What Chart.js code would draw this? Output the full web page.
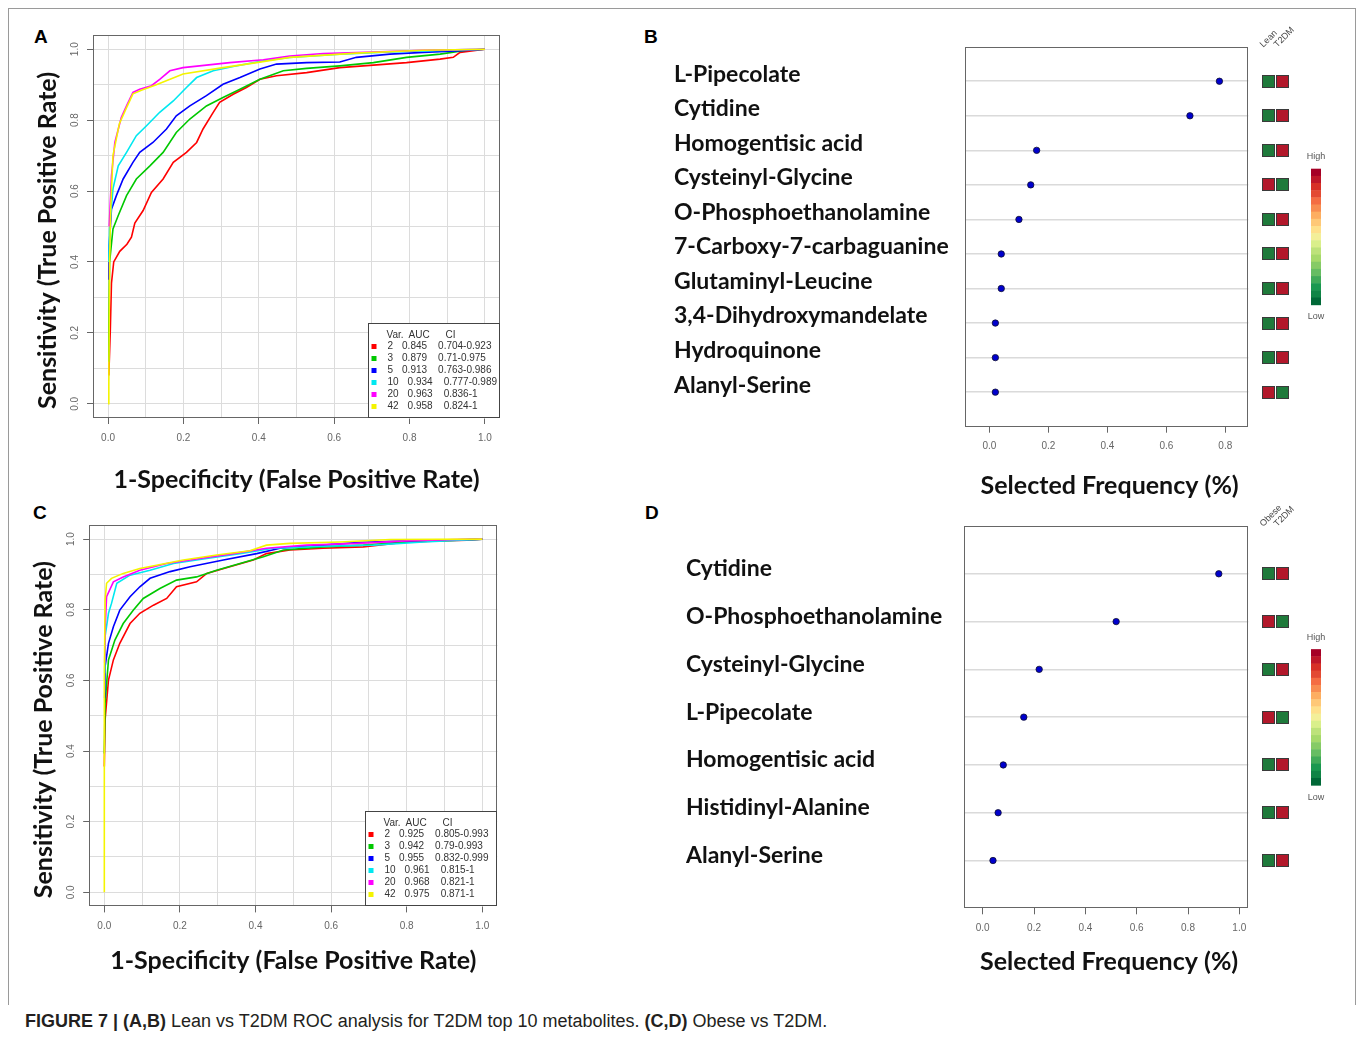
<!DOCTYPE html>
<html><head><meta charset="utf-8">
<script src="https://cdn.jsdelivr.net/npm/chart.js@4.4.1/dist/chart.umd.min.js"></script>
<style>
html,body{margin:0;padding:0;background:#fff;}
body{width:1357px;height:1041px;position:relative;overflow:hidden;font-family:"Liberation Sans",Arial,sans-serif;}
.frame{position:absolute;left:8px;top:8px;width:1346px;height:996px;border:1px solid #9a9a9a;border-bottom:none;}
.panel{position:absolute;}
.letter{position:absolute;font:bold 19px/19px "Liberation Sans",Arial,sans-serif;color:#000;}
.caption{position:absolute;left:25px;top:1012px;font:18px/18px "Liberation Sans",Arial,sans-serif;color:#231f20;white-space:nowrap;}
</style></head><body>
<div class="frame"></div>
<div class="letter" style="left:34px;top:27px">A</div>
<div class="letter" style="left:644px;top:27px">B</div>
<div class="letter" style="left:33px;top:503px">C</div>
<div class="letter" style="left:645px;top:503px">D</div>
<div class="panel" style="left:20px;top:20px"><canvas id="cA" width="500" height="480"></canvas></div>
<div class="panel" style="left:640px;top:20px"><canvas id="cB" width="705" height="480"></canvas></div>
<div class="panel" style="left:20px;top:500px"><canvas id="cC" width="500" height="480"></canvas></div>
<div class="panel" style="left:640px;top:500px"><canvas id="cD" width="705" height="480"></canvas></div>
<div class="caption"><b>FIGURE 7 | (A,B)</b> Lean vs T2DM ROC analysis for T2DM top 10 metabolites. <b>(C,D)</b> Obese vs T2DM.</div>
<script>
// ---------------- DATA ----------------
const rocVars = ['2', '3', '5', '10', '20', '42'];
const aucA = ['0.845', '0.879', '0.913', '0.934', '0.963', '0.958'];
const ciA = ['0.704-0.923', '0.71-0.975', '0.763-0.986', '0.777-0.989', '0.836-1', '0.824-1'];
const aucC = ['0.925', '0.942', '0.955', '0.961', '0.968', '0.975'];
const ciC = ['0.805-0.993', '0.79-0.993', '0.832-0.999', '0.815-1', '0.821-1', '0.871-1'];

// ROC curves, panel A (Lean vs T2DM): [FPR, TPR]
const rocA_v2 = [[0.002,0.08],[0.006,0.21],[0.009,0.34],[0.015,0.40],[0.031,0.43],[0.05,0.45],[0.062,0.47],[0.071,0.51],[0.093,0.545],[0.115,0.596],[0.146,0.634],[0.173,0.681],[0.208,0.709],[0.235,0.737],[0.252,0.775],[0.279,0.822],[0.296,0.85],[0.332,0.873],[0.367,0.892],[0.403,0.915],[0.447,0.925],[0.527,0.934],[0.615,0.948],[0.704,0.955],[0.792,0.962],[0.881,0.972],[0.916,0.977],[0.934,0.991],[1,1]];
const rocA_v3 = [[0.001,0.12],[0.002,0.211],[0.004,0.399],[0.013,0.493],[0.027,0.531],[0.049,0.587],[0.075,0.634],[0.111,0.671],[0.146,0.709],[0.181,0.765],[0.217,0.803],[0.261,0.84],[0.305,0.864],[0.35,0.887],[0.403,0.915],[0.465,0.939],[0.527,0.946],[0.615,0.953],[0.704,0.962],[0.792,0.977],[0.881,0.986],[0.951,0.997],[1,1]];
const rocA_v5 = [[0.002,0.35],[0.003,0.446],[0.009,0.549],[0.022,0.587],[0.04,0.634],[0.066,0.681],[0.084,0.709],[0.119,0.737],[0.155,0.775],[0.181,0.812],[0.217,0.84],[0.261,0.869],[0.305,0.901],[0.35,0.92],[0.403,0.944],[0.447,0.958],[0.527,0.962],[0.615,0.964],[0.659,0.977],[0.748,0.986],[0.836,0.991],[0.925,0.995],[1,1]];
const rocA_v10 = [[0.002,0.4],[0.004,0.493],[0.013,0.606],[0.027,0.671],[0.049,0.709],[0.075,0.756],[0.102,0.784],[0.137,0.822],[0.173,0.854],[0.208,0.892],[0.235,0.92],[0.279,0.939],[0.332,0.951],[0.412,0.967],[0.482,0.977],[0.615,0.986],[0.748,0.992],[0.925,0.998],[1,1]];
const rocA_v20 = [[0.003,0.5],[0.009,0.643],[0.018,0.737],[0.035,0.807],[0.049,0.84],[0.066,0.878],[0.084,0.887],[0.115,0.897],[0.137,0.915],[0.164,0.939],[0.199,0.948],[0.261,0.955],[0.323,0.962],[0.412,0.97],[0.482,0.981],[0.571,0.988],[0.704,0.992],[0.836,0.997],[1,1]];
const rocA_v42 = [[0,0],[0.002,0.047],[0.004,0.4],[0.007,0.55],[0.013,0.7],[0.03,0.79],[0.049,0.835],[0.066,0.874],[0.09,0.885],[0.128,0.9],[0.199,0.93],[0.305,0.948],[0.394,0.962],[0.482,0.977],[0.659,0.989],[0.836,0.997],[1,1]];

// ROC curves, panel C (Obese vs T2DM)
const rocC_v2 = [[0,0.356],[0.002,0.488],[0.011,0.601],[0.024,0.658],[0.041,0.705],[0.068,0.761],[0.094,0.79],[0.13,0.813],[0.165,0.832],[0.191,0.865],[0.244,0.879],[0.271,0.903],[0.332,0.922],[0.394,0.941],[0.429,0.959],[0.491,0.969],[0.579,0.974],[0.685,0.978],[0.8,0.992],[0.959,0.997],[1,1]];
const rocC_v3 = [[0,0.393],[0.002,0.535],[0.011,0.658],[0.028,0.714],[0.05,0.761],[0.077,0.799],[0.103,0.832],[0.147,0.86],[0.191,0.884],[0.244,0.893],[0.297,0.912],[0.359,0.931],[0.421,0.95],[0.474,0.969],[0.579,0.978],[0.685,0.983],[0.8,0.992],[0.932,0.997],[1,1]];
const rocC_v5 = [[0.001,0.55],[0.002,0.639],[0.011,0.705],[0.024,0.752],[0.041,0.799],[0.068,0.837],[0.094,0.865],[0.121,0.889],[0.174,0.908],[0.227,0.922],[0.315,0.941],[0.403,0.959],[0.465,0.974],[0.579,0.983],[0.668,0.99],[0.8,0.995],[0.888,0.997],[1,1]];
const rocC_v10 = [[0.001,0.62],[0.002,0.724],[0.011,0.79],[0.019,0.818],[0.033,0.875],[0.068,0.898],[0.121,0.912],[0.183,0.931],[0.271,0.945],[0.359,0.959],[0.447,0.974],[0.579,0.98],[0.712,0.983],[0.844,0.992],[0.959,0.998],[1,1]];
const rocC_v20 = [[0.001,0.65],[0.002,0.742],[0.006,0.837],[0.024,0.879],[0.05,0.893],[0.094,0.912],[0.165,0.931],[0.253,0.945],[0.341,0.959],[0.429,0.974],[0.535,0.983],[0.668,0.988],[0.8,0.995],[0.932,0.999],[1,1]];
const rocC_v42 = [[0,0],[0,0.6],[0.002,0.827],[0.006,0.875],[0.019,0.889],[0.05,0.903],[0.094,0.917],[0.138,0.926],[0.209,0.941],[0.297,0.955],[0.385,0.967],[0.429,0.983],[0.491,0.988],[0.623,0.992],[0.756,0.999],[1,1]];

// Panel B: selected frequency (Lean vs T2DM)
const metabolitesB = ['L-Pipecolate', 'Cytidine', 'Homogentisic acid', 'Cysteinyl-Glycine', 'O-Phosphoethanolamine', '7-Carboxy-7-carbaguanine', 'Glutaminyl-Leucine', '3,4-Dihydroxymandelate', 'Hydroquinone', 'Alanyl-Serine'];
const freqB = [0.78, 0.68, 0.16, 0.14, 0.10, 0.04, 0.04, 0.02, 0.02, 0.02];
const groupsB = ['Lean', 'T2DM'];
const heatB_Lean = ['low', 'low', 'low', 'high', 'low', 'low', 'low', 'low', 'low', 'high'];
const heatB_T2DM = ['high', 'high', 'high', 'low', 'high', 'high', 'high', 'high', 'high', 'low'];

// Panel D: selected frequency (Obese vs T2DM)
const metabolitesD = ['Cytidine', 'O-Phosphoethanolamine', 'Cysteinyl-Glycine', 'L-Pipecolate', 'Homogentisic acid', 'Histidinyl-Alanine', 'Alanyl-Serine'];
const freqD = [0.92, 0.52, 0.22, 0.16, 0.08, 0.06, 0.04];
const groupsD = ['Obese', 'T2DM'];
const heatD_Obese = ['low', 'high', 'low', 'high', 'low', 'low', 'low'];
const heatD_T2DM = ['high', 'low', 'high', 'low', 'high', 'high', 'high'];

// ---------------- STYLE ----------------
const rocColors = ['#ff0000', '#00c800', '#0000ff', '#00e8f0', '#ff00ff', '#f4f400'];
const heatColors = { high: '#b2182b', low: '#1f7a3b' };
const colorbarPalette = ['#a50026','#be1729','#d73027','#e34a33','#f46d43','#f88d51','#fdae61','#fec877','#fee08b','#f3ef99','#d9ef8b','#bde27a','#a6d96a','#86cb66','#66bd63','#40aa59','#1a9850','#0f8446','#006837'];
const TITLE_FONT = 'bold 25px Lato, "Open Sans", sans-serif';
const TICK_FONT = '10px "Liberation Sans", Arial, sans-serif';

Chart.defaults.font.family = '"Liberation Sans", Arial, sans-serif';

const isMajor = v => Math.abs(Math.round(v * 10) % 2) === 0;

const decor = {
  id: 'decor',
  afterDraw(chart, args, o) {
    const { ctx, chartArea: a } = chart;
    const y = chart.scales.y;
    ctx.save();
    // plot box
    ctx.strokeStyle = '#666';
    ctx.lineWidth = 1;
    const L = Math.round(a.left) + 0.5, T = Math.round(a.top) + 0.5, R = Math.round(a.right) - 0.5, B = Math.round(a.bottom) - 0.5;
    ctx.strokeRect(L, T, R - L, B - T);
    // titles
    ctx.fillStyle = '#111';
    ctx.font = TITLE_FONT;
    ctx.textAlign = 'center';
    ctx.textBaseline = 'middle';
    ctx.fillText(o.xTitle, (a.left + a.right) / 2 + (o.xTitleDx || 0), a.bottom + o.xTitleDy);
    if (o.yTitle) {
      ctx.save();
      ctx.translate(a.left - o.yTitleDx, (a.top + a.bottom) / 2 + o.yTitleShift);
      ctx.rotate(-Math.PI / 2);
      ctx.fillText(o.yTitle, 0, 0);
      ctx.restore();
    }
    // rotated y tick labels (R style)
    if (o.yTickGap) {
      ctx.font = TICK_FONT;
      ctx.fillStyle = '#666';
      y.ticks.forEach(t => {
        if (!isMajor(t.value)) return;
        ctx.save();
        ctx.translate(a.left - o.yTickGap, y.getPixelForValue(t.value));
        ctx.rotate(-Math.PI / 2);
        ctx.fillText(t.value.toFixed(1), 0, 0);
        ctx.restore();
      });
    }
    // ROC legend box
    if (o.legend) {
      const lw = 132, lh = 95;
      const lx = Math.round(a.right - lw) + 0.5, ly = Math.round(a.bottom - lh) + 0.5;
      ctx.fillStyle = '#fff';
      ctx.fillRect(lx, ly, lw, lh);
      ctx.strokeStyle = '#444';
      ctx.strokeRect(lx, ly, lw - 1, lh - 1);
      ctx.font = TICK_FONT;
      ctx.textAlign = 'left';
      ctx.textBaseline = 'middle';
      ctx.fillStyle = '#333';
      ctx.fillText('Var.', lx + 18, ly + 12);
      ctx.fillText('AUC', lx + 40, ly + 12);
      ctx.fillText('CI', lx + 77, ly + 12);
      o.legend.vars.forEach((v, i) => {
        const yy = ly + 23 + 12 * i;
        ctx.fillStyle = o.legend.colors[i];
        ctx.fillRect(lx + 3, yy - 2.5, 5, 5);
        ctx.fillStyle = '#333';
        const xv = lx + 19;
        const xa = xv + ctx.measureText(v).width + 9;
        const xc = xa + ctx.measureText(o.legend.auc[i]).width + 11;
        ctx.fillText(v, xv, yy);
        ctx.fillText(o.legend.auc[i], xa, yy);
        ctx.fillText(o.legend.ci[i], xc, yy);
      });
    }
    // heatmap squares + colorbar
    if (o.heat) {
      const cols = o.heat.cols;
      cols.forEach((col, j) => {
        col.forEach((lvl, i) => {
          const py = y.getPixelForValue(i + 1);
          const sx = Math.round(a.right + 13.5 + 14 * j) + 0.5;
          const sy = Math.round(py - 6.5) + 0.5;
          ctx.fillStyle = heatColors[lvl];
          ctx.fillRect(sx, sy, 12, 12);
          ctx.strokeStyle = '#3a3a3a';
          ctx.strokeRect(sx, sy, 12, 12);
        });
      });
      ctx.font = '9px "Liberation Sans", Arial, sans-serif';
      ctx.fillStyle = '#444';
      ctx.textAlign = 'left';
      ctx.textBaseline = 'alphabetic';
      o.heat.groups.forEach((g, j) => {
        ctx.save();
        ctx.translate(a.right + 15 + 14 * j, a.top + 1);
        ctx.rotate(-Math.PI / 4);
        ctx.fillText(g, 0, 0);
        ctx.restore();
      });
      const cx = a.right + 62.7, cw = 10, ch = 136;
      const cy = (a.top + a.bottom) / 2 - ch / 2;
      const bh = ch / colorbarPalette.length;
      colorbarPalette.forEach((c, k) => {
        ctx.fillStyle = c;
        ctx.fillRect(cx, cy + k * bh, cw, bh + 0.5);
      });
      ctx.fillStyle = '#555';
      ctx.textAlign = 'center';
      ctx.textBaseline = 'middle';
      ctx.fillText('High', cx + cw / 2, cy - 12);
      ctx.fillText('Low', cx + cw / 2, cy + ch + 12);
    }
    ctx.restore();
  }
};

function rocChart(id, series, auc, ci, pad, yWidth, xTitleDy) {
  const datasets = series.map((pts, i) => ({
    label: 'Var. ' + rocVars[i],
    data: pts.map(p => ({ x: p[0], y: p[1] })),
    showLine: true,
    borderColor: rocColors[i],
    backgroundColor: rocColors[i],
    borderWidth: 1.6,
    pointRadius: 0,
    tension: 0,
    order: series.length - i
  }));
  const gridCommon = {
    color: '#dcdcdc', lineWidth: 1, drawTicks: true, tickLength: 6,
    tickColor: c => (c.tick && isMajor(c.tick.value)) ? '#666' : 'rgba(0,0,0,0)'
  };
  return new Chart(document.getElementById(id), {
    type: 'scatter',
    data: { datasets },
    options: {
      responsive: false, animation: false, devicePixelRatio: 1,
      layout: { padding: pad },
      plugins: {
        legend: { display: false }, tooltip: { enabled: false },
        decor: {
          xTitle: '1-Specificity (False Positive Rate)', xTitleDy: xTitleDy,
          yTitle: 'Sensitivity (True Positive Rate)', yTitleDx: 45, yTitleShift: 14,
          yTickGap: 17.5,
          legend: { vars: rocVars, auc: auc, ci: ci, colors: rocColors }
        }
      },
      scales: {
        x: {
          type: 'linear', min: -0.04, max: 1.04,
          afterFit: s => { s.height = 60; },
          border: { display: false },
          grid: gridCommon,
          ticks: { stepSize: 0.1, includeBounds: false, autoSkip: false, maxRotation: 0, padding: 8, color: '#666', font: { size: 10 },
                   callback: v => isMajor(v) ? v.toFixed(1) : '' }
        },
        y: {
          type: 'linear', min: -0.04, max: 1.04,
          afterFit: s => { s.width = yWidth; },
          border: { display: false },
          grid: gridCommon,
          ticks: { stepSize: 0.1, includeBounds: false, display: false }
        }
      }
    },
    plugins: [decor]
  });
}

function dotChart(id, names, freq, groups, cols, xMin, xMax, pad, yWidth, labelOffset, xTitleDy) {
  const n = names.length;
  return new Chart(document.getElementById(id), {
    type: 'scatter',
    data: { datasets: [{
      label: 'Selected Frequency',
      data: freq.map((v, i) => ({ x: v, y: i + 1 })),
      pointRadius: 3.2, pointBackgroundColor: '#0000cd', pointBorderColor: '#101030', pointBorderWidth: 0.8
    }] },
    options: {
      responsive: false, animation: false, devicePixelRatio: 1,
      layout: { padding: pad },
      plugins: {
        legend: { display: false }, tooltip: { enabled: false },
        decor: { xTitle: 'Selected Frequency (%)', xTitleDy: xTitleDy, xTitleDx: 3, heat: { groups, cols } }
      },
      scales: {
        x: {
          type: 'linear', min: xMin, max: xMax,
          afterFit: s => { s.height = 50; },
          border: { display: false },
          grid: { drawOnChartArea: false, drawTicks: true, tickLength: 6, tickColor: '#666' },
          ticks: { stepSize: 0.2, includeBounds: false, autoSkip: false, maxRotation: 0, padding: 8, color: '#666', font: { size: 10 },
                   callback: v => v.toFixed(1) }
        },
        y: {
          type: 'linear', reverse: true, min: 0, max: n + 1,
          afterFit: s => { s.width = yWidth; },
          border: { display: false },
          grid: { drawTicks: false, lineWidth: 1.5,
                  color: c => (c.tick && c.tick.value >= 1 && c.tick.value <= n) ? '#dadada' : 'rgba(0,0,0,0)' },
          ticks: { stepSize: 1, autoSkip: false, crossAlign: 'far', labelOffset: labelOffset, color: '#111',
                   font: { family: 'Lato, "Open Sans", sans-serif', weight: 'bold', size: 23 },
                   callback: v => names[v - 1] || '' }
        }
      }
    },
    plugins: [decor]
  });
}

rocChart('cA', [rocA_v2, rocA_v3, rocA_v5, rocA_v10, rocA_v20, rocA_v42], aucA, ciA,
         { left: 10, top: 15, right: 20, bottom: 22 }, 63, 62);
rocChart('cC', [rocC_v2, rocC_v3, rocC_v5, rocC_v10, rocC_v20, rocC_v42], aucC, ciC,
         { left: 10, top: 25, right: 22.6, bottom: 13.6 }, 59.2, 55);
dotChart('cB', metabolitesB, freqB, groupsB, [heatB_Lean, heatB_T2DM], -0.083, 0.878,
         { left: 34, top: 26.7, right: 96.7, bottom: 23.3 }, 291, -7, 59.3);
dotChart('cD', metabolitesD, freqD, groupsD, [heatD_Obese, heatD_T2DM], -0.073, 1.035,
         { left: 46, top: 26, right: 96.7, bottom: 21.7 }, 278, -5, 53.7);
</script>
</body></html>
